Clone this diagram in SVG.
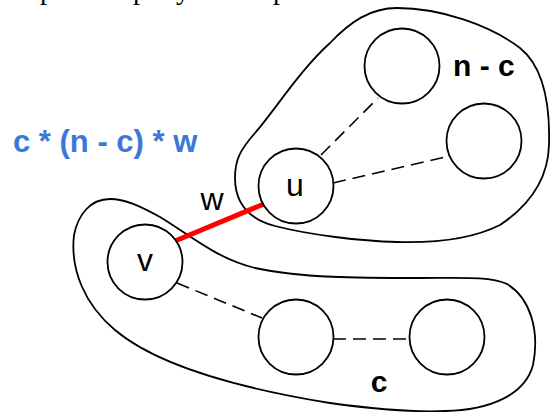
<svg xmlns="http://www.w3.org/2000/svg" width="550" height="412" viewBox="0 0 550 412">
<style>
.blob{fill:none;stroke:#000;stroke-width:1.8}
.node{fill:#fff;stroke:#000;stroke-width:1.8}
.dash{stroke:#000;stroke-width:1.6;stroke-dasharray:13,7;fill:none}
.lbl{font-family:"Liberation Sans",Arial,sans-serif;font-size:32px;fill:#000;text-anchor:middle}
.bold{font-family:"Liberation Sans",Arial,sans-serif;font-weight:bold;fill:#000}
.frag{font-family:"Liberation Serif","Times New Roman",serif;font-size:28px;fill:#000}
</style>
<g id="header-fragment">
<text class="frag" x="40" y="-1">р</text>
<text class="frag" x="133" y="-1">р</text>
<text class="frag" x="176" y="-1">у</text>
<text class="frag" x="273" y="-1">р</text>
</g>
<g id="group-n-c">
<path class="blob" d="M397,8 C440,8 490,25 520,48 C545,68 550,110 549,145 C548,180 530,205 500,225 C470,240 430,243 397,242 C360,241 310,235 275,226 C245,218 235,200 235,178 C235,160 240,150 255,133 C275,110 300,70 330,43 C350,22 370,8 397,8 Z"/>
<text class="bold" x="453" y="76" font-size="30">n - c</text>
</g>
<g id="group-c">
<path class="blob" d="M110,199 C90,199 78,215 74,235 C70,270 85,305 115,330 C160,368 250,390 330,403 C380,410 420,412 445,411 C490,410 525,395 533,365 C540,330 530,298 507,284 C490,276 460,278 420,278 C360,278 300,278 255,268 C215,258 190,235 160,217 C140,206 125,199 110,199 Z"/>
<text class="bold" x="379" y="392" font-size="30" text-anchor="middle">c</text>
</g>
<g id="connectors">
<line class="dash" x1="321" y1="155" x2="378" y2="98"/>
<line class="dash" x1="333" y1="183" x2="450" y2="156"/>
<line class="dash" x1="177" y1="283" x2="262" y2="318"/>
<line class="dash" x1="333" y1="339" x2="409" y2="339"/>
<line id="edge-uv" x1="175" y1="241" x2="264" y2="204" stroke="#ff0000" stroke-width="5"/>
<text class="lbl" x="212" y="210" font-size="30">w</text>
</g>
<g id="node-top"><circle class="node" cx="402" cy="66" r="37.5"/></g>
<g id="node-right"><circle class="node" cx="484" cy="141" r="37.5"/></g>
<g id="node-u"><circle class="node" cx="296" cy="186" r="37.5"/><text class="lbl" x="295" y="196">u</text></g>
<g id="node-v"><circle class="node" cx="145" cy="262" r="37.5"/><text class="lbl" x="145" y="271">v</text></g>
<g id="node-mid"><circle class="node" cx="296" cy="337" r="37.5"/></g>
<g id="node-br"><circle class="node" cx="447" cy="337" r="37.5"/></g>
<g id="formula">
<text x="13" y="152" font-family="'Liberation Sans',Arial,sans-serif" font-weight="bold" font-size="31" fill="#3c78d8">c * (n - c) * w</text>
</g>
</svg>
